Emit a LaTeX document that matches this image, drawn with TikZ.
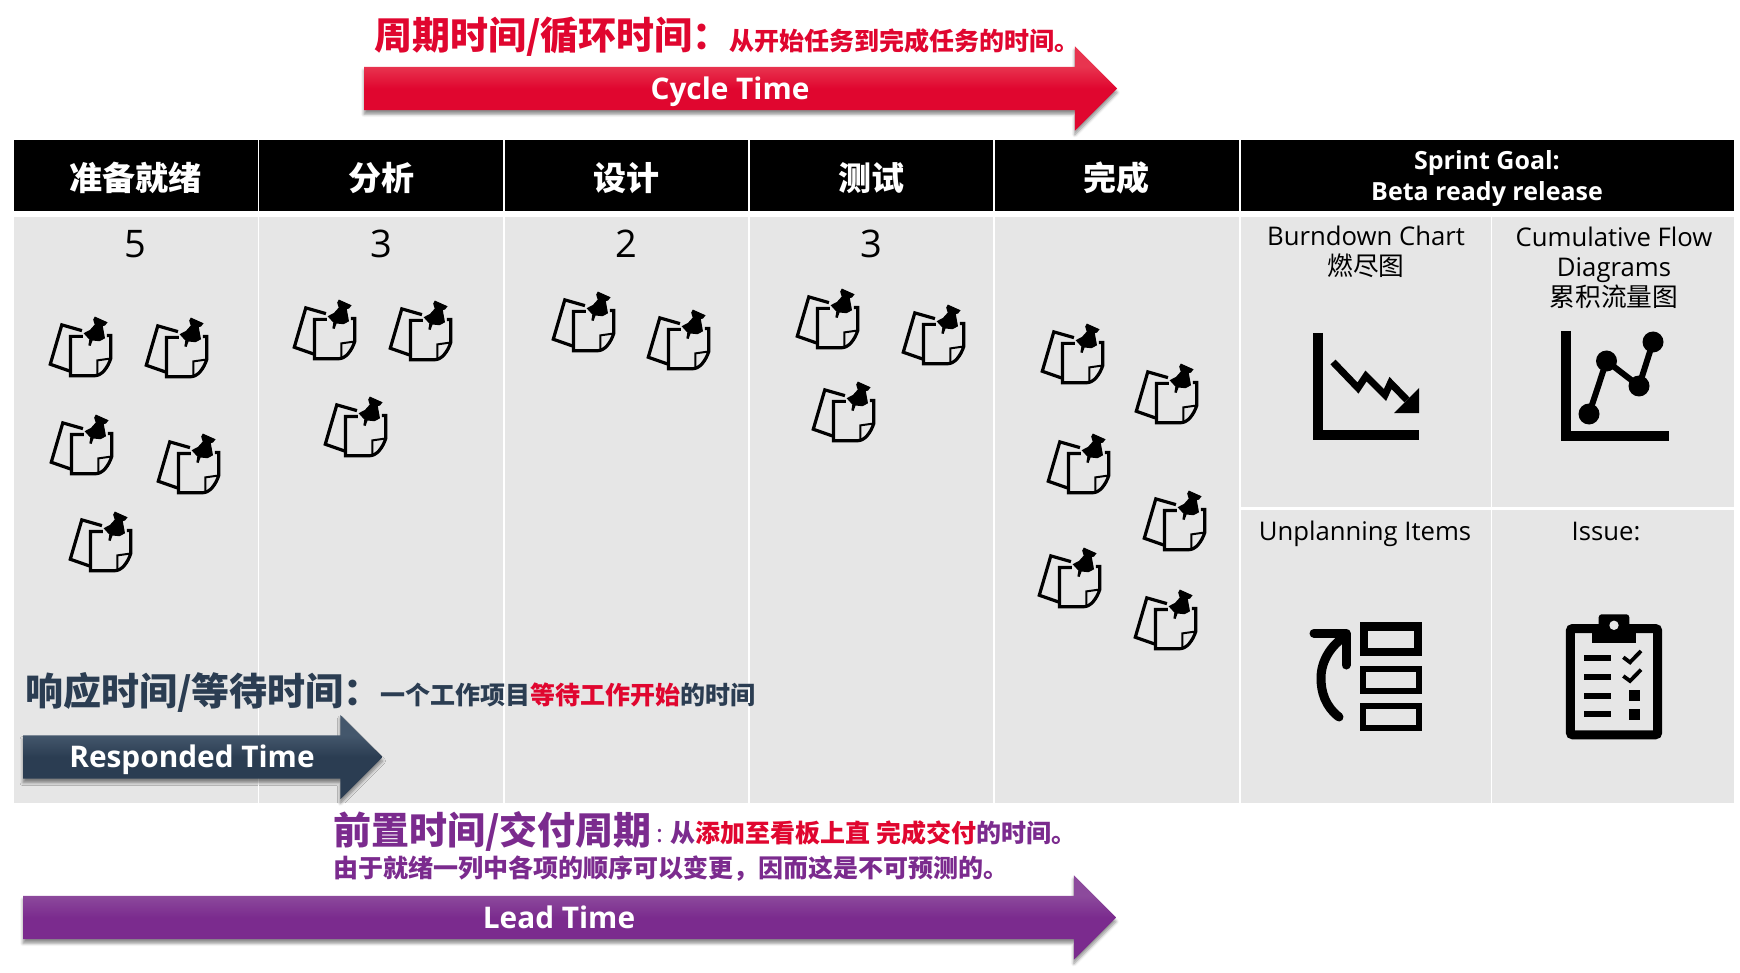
\documentclass[tikz,border=0pt]{standalone}
\usepackage{fontspec}
\setmainfont{Open Sans}
\newfontfamily\cjk{Noto Sans CJK SC}
\usepackage{xcolor}
\usetikzlibrary{shapes.arrows, positioning, shadows.blur}
\definecolor{boardgray}{HTML}{E6E6E6}
\definecolor{crimson}{HTML}{E0062F}
\definecolor{crimsontop}{HTML}{E8344F}
\definecolor{slatenavy}{HTML}{2B3D52}
\definecolor{slatetop}{HTML}{44576C}
\definecolor{plum}{HTML}{7B2B8E}
\definecolor{plumtop}{HTML}{8C4A9C}
\pgfdeclareverticalshading{crimsonfade}{100bp}{color(0bp)=(crimson); color(50bp)=(crimson); color(63bp)=(crimsontop); color(100bp)=(crimsontop)}
\pgfdeclareverticalshading{slatefade}{100bp}{color(0bp)=(slatenavy); color(50bp)=(slatenavy); color(63bp)=(slatetop); color(100bp)=(slatetop)}
\pgfdeclareverticalshading{plumfade}{100bp}{color(0bp)=(plum); color(50bp)=(plum); color(63bp)=(plumtop); color(100bp)=(plumtop)}
\tikzset{
  % Board cells
  colhead/.style={
    rectangle, fill=black, text=white, inner sep=0pt, outer sep=0pt,
    minimum width=243.5pt, minimum height=71pt,
    text height=34pt, text depth=4pt,
    font=\cjk\bfseries\fontsize{33}{38}\selectfont
  },
  colbody/.style={
    rectangle, fill=boardgray, inner sep=0pt, outer sep=0pt,
    minimum width=243.5pt, minimum height=586pt
  },
  countnum/.style={font=\fontsize{38}{42}\selectfont, inner sep=0pt},
  celltitle/.style={font=\fontsize{25.7}{30}\selectfont, align=center, inner sep=0pt},
  % Time arrows
  timearrow/.style={
    single arrow, anchor=tail, inner xsep=0pt, inner ysep=21.5pt, outer sep=0pt, minimum height=#1,
    single arrow head extend=20.5pt, single arrow tip angle=90,
    blur shadow={shadow xshift=0pt, shadow yshift=-4pt, shadow blur radius=3pt, shadow opacity=45}
  },
  arrowtext/.style={text=white, font=\bfseries\fontsize{29.8}{34}\selectfont, inner sep=0pt},
  % Captions
  bigcap/.style={anchor=west, inner sep=0pt, font=\cjk\bfseries\fontsize{38}{42}\selectfont},
  smallcap/.style={anchor=west, inner sep=0pt, font=\cjk\bfseries\fontsize{25}{28}\selectfont},
  % Sticky note with pin
  stickynote/.pic={
    \draw[line width=3.2pt] (1,-16) -- (-20,-22) -- (-32,19) -- (-12,26);
    \draw[line width=3.2pt] (2,-10) -- (-11,-10) -- (-11,31) -- (14,31)
      .. controls (22,31) and (28,22) .. (31,13) -- (31,-11) -- (27,-11);
    \draw[line width=2pt] (17,31) -- (17,15) -- (31,13);
    \fill (14.3,-30.7) -- (27.7,-24.7) -- (25,-21.3) -- (22.7,-20.7) -- (25,-8) -- (19.3,-5)
      -- (12,-5.7) -- (10,0) -- (7.7,-0.7) -- (8.7,-6.7) -- (2.7,-13.3) -- (9.3,-16.7)
      -- (14.3,-22.3) -- (12.7,-27.3) -- cycle;
  }
}
\begin{document}
\begin{tikzpicture}[x=1pt, y=-1pt]
  \useasboundingbox (0,0) rectangle (1740,973);

  % Column heads
  \node[colhead, anchor=north west] (hd1) at (14,140) {准备就绪};
  \node[colhead, right=1.8pt of hd1] (hd2) {分析};
  \node[colhead, right=1.8pt of hd2] (hd3) {设计};
  \node[colhead, right=1.8pt of hd3] (hd4) {测试};
  \node[colhead, right=1.8pt of hd4] (hd5) {完成};
  \node[colhead, right=1.8pt of hd5, minimum width=493.5pt] (hd6) {};
  \node[align=center, text=white, inner sep=0pt,
    font=\bfseries\fontsize{25}{31}\selectfont] (goal) at (1487,179) {Sprint Goal:\\Beta ready release};

  % Column bodies
  \foreach \i in {1,...,5}
    \node[colbody, below=6pt of hd\i] (body\i) {};
  \foreach \i/\n in {1/5,2/3,3/2,4/3}
    \node[countnum, below=13pt of body\i.north] (num\i) {\n};

  % Chart cells
  \node[colbody, anchor=north west, minimum width=250pt, minimum height=290pt] (burn) at (1240.5,217) {};
  \node[colbody, right=1.8pt of burn, minimum width=241.7pt, minimum height=290pt] (flow) {};
  \node[colbody, below=2.5pt of burn, minimum width=250pt, minimum height=293.5pt] (plan) {};
  \node[colbody, below=2.5pt of flow, minimum width=241.7pt, minimum height=293.5pt] (issue) {};
  \node[celltitle] (burntitle) at (1366,252) {Burndown Chart\\{\cjk 燃尽图}};
  \node[celltitle] (flowtitle) at (1614,267.5) {Cumulative Flow\\Diagrams\\{\cjk 累积流量图}};
  \node[celltitle] (plantitle) at (1365,534) {Unplanning Items};
  \node[celltitle] (issuetitle) at (1606,532) {Issue:};

  % Notes on the board
  \foreach \x/\y in {81/346,177/347,82/444,189/463,101/541,
                     325/329,421/330,356/426,
                     584/321,679/339,
                     828/318,934/334,844/411,
                     1073/353,1167/393,1079/463,1175/520,1070/577,1166/619}
    \pic[scale=.96] at (\x,\y) {stickynote};

  % Burndown icon
  \draw[line width=10pt] (1318,333) -- (1318,434.5) -- (1419,434.5);
  \draw[line width=7pt] (1333,362) -- (1358,388) -- (1366,376) -- (1385,395) -- (1390.5,383) -- (1407,400);
  \fill (1419,388) -- (1419,413) -- (1394,413) -- cycle;

  % Flow icon
  \draw[line width=10pt] (1566,331) -- (1566,436) -- (1669,436);
  \draw[line width=6pt] (1589,414) -- (1606.5,361) -- (1639,386) -- (1653,342);
  \foreach \x/\y in {1589/414,1606.5/361,1639/386,1653/342}
    \fill (\x,\y) circle (10.5pt);

  % Unplanned items icon
  \draw[line width=8.5pt] (1364.2,626.5) rectangle (1418,652);
  \draw[line width=6pt] (1363,668.7) rectangle (1419.3,691);
  \draw[line width=6pt] (1363,706.3) rectangle (1419.3,728.3);
  \draw[line width=9pt, line cap=round, line join=round] (1314,633.3) -- (1346,633.3) -- (1346,665);
  \draw[line width=9pt, line cap=round] (1339,717) .. controls (1325,706) and (1321,692) .. (1321,678)
    .. controls (1321,660) and (1332,645) .. (1344,637);

  % Clipboard icon
  \draw[line width=9pt, rounded corners=2.5pt] (1570.3,628.5) rectangle (1657.7,734.8);
  \fill[rounded corners=3pt] (1598.7,614.3) rectangle (1629.3,636);
  \fill (1592,633) rectangle (1636,642.7);
  \fill[boardgray] (1614,625.3) circle (4.7pt);
  \foreach \y in {658.3,677,695.7,714.3}
    \draw[line width=6pt] (1584.3,\y) -- (1611,\y);
  \foreach \y in {0,18.7}
    \draw[line width=3.8pt, yshift=-\y pt] (1623.3,657.3) -- (1630,662.3) -- (1641,651);
  \fill (1629,690.3) rectangle (1640,701.3);
  \fill (1629,709) rectangle (1640,720);

  % Cycle time
  \node[bigcap, text=crimson] (cycletitle) at (374,37) {周期时间/循环时间：};
  \node[smallcap, text=crimson] (cyclenote) at (729,41) {从开始任务到完成任务的时间。};
  \node[timearrow=753pt, shading=crimsonfade] (cyclearrow) at (364,88.5) {};
  \node[arrowtext] (cyclelabel) at (730,92) {Cycle Time};

  % Responded time
  \node[bigcap, text=slatenavy] (resptitle) at (25,692) {响应时间/等待时间：};
  \node[smallcap, text=slatenavy] (respnote) at (380.5,695) {一个工作项目\textcolor{crimson}{等待工作开始}的时间};
  \node[timearrow=359.5pt, shading=slatefade] (resparrow) at (23,757) {};
  \node[arrowtext] (resplabel) at (192,760) {Responded Time};

  % Lead time
  \node[bigcap, text=plum] (leadtitle) at (333,831) {前置时间/交付周期};
  \node[smallcap, text=plum] (leadnote) at (656,833) {{\mdseries :} 从\textcolor{crimson}{添加至看板上直 完成交付}的时间。};
  \node[smallcap, text=plum] (leadnext) at (333,869) {由于就绪一列中各项的顺序可以变更，因而这是不可预测的。};
  \node[timearrow=1093pt, shading=plumfade] (leadarrow) at (23,917.5) {};
  \node[arrowtext] (leadlabel) at (559,917) {Lead Time};
\end{tikzpicture}
\end{document}
